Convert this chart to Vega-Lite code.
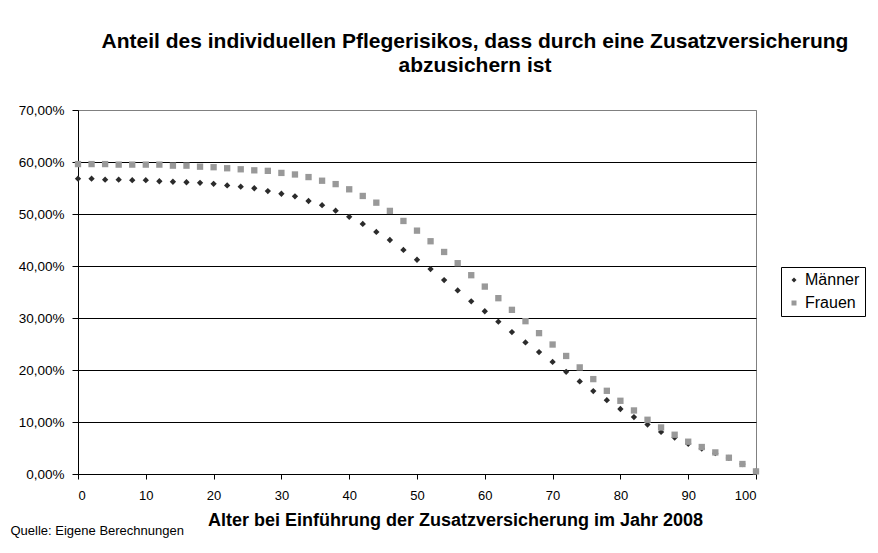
{
  "$schema": "https://vega.github.io/schema/vega-lite/v6.json",
  "width": 678,
  "height": 364,
  "autosize": {"type": "none"},
  "padding": {"left": 78, "top": 110, "right": 122, "bottom": 79},
  "background": "white",
  "title": {
    "text": ["Anteil des individuellen Pflegerisikos, dass durch eine Zusatzversicherung", "abzusichern ist"],
    "anchor": "middle",
    "dx": 58,
    "fontSize": 21,
    "fontWeight": "bold",
    "lineHeight": 24,
    "color": "black",
    "offset": 27
  },
  "data": {
    "values": [
      {"age": 0, "Männer": 56.8, "Frauen": 59.6},
      {"age": 2, "Männer": 56.8, "Frauen": 59.6},
      {"age": 4, "Männer": 56.6, "Frauen": 59.6},
      {"age": 6, "Männer": 56.6, "Frauen": 59.5},
      {"age": 8, "Männer": 56.5, "Frauen": 59.5},
      {"age": 10, "Männer": 56.5, "Frauen": 59.5},
      {"age": 12, "Männer": 56.3, "Frauen": 59.5},
      {"age": 14, "Männer": 56.2, "Frauen": 59.3},
      {"age": 16, "Männer": 56.1, "Frauen": 59.3},
      {"age": 18, "Männer": 56.0, "Frauen": 59.1},
      {"age": 20, "Männer": 55.8, "Frauen": 59.0},
      {"age": 22, "Männer": 55.5, "Frauen": 58.8},
      {"age": 24, "Männer": 55.25, "Frauen": 58.6},
      {"age": 26, "Männer": 54.95, "Frauen": 58.4},
      {"age": 28, "Männer": 54.4, "Frauen": 58.3},
      {"age": 30, "Männer": 53.9, "Frauen": 57.9},
      {"age": 32, "Männer": 53.4, "Frauen": 57.6},
      {"age": 34, "Männer": 52.5, "Frauen": 57.1},
      {"age": 36, "Männer": 51.7, "Frauen": 56.4},
      {"age": 38, "Männer": 50.64, "Frauen": 55.75},
      {"age": 40, "Männer": 49.45, "Frauen": 54.75},
      {"age": 42, "Männer": 48.09, "Frauen": 53.47},
      {"age": 44, "Männer": 46.55, "Frauen": 52.18},
      {"age": 46, "Männer": 45.0, "Frauen": 50.6},
      {"age": 48, "Männer": 43.1, "Frauen": 48.66},
      {"age": 50, "Männer": 41.2, "Frauen": 46.8},
      {"age": 52, "Männer": 39.4, "Frauen": 44.76},
      {"age": 54, "Männer": 37.3, "Frauen": 42.7},
      {"age": 56, "Männer": 35.3, "Frauen": 40.54},
      {"age": 58, "Männer": 33.2, "Frauen": 38.23},
      {"age": 60, "Männer": 31.3, "Frauen": 36.04},
      {"age": 62, "Männer": 29.3, "Frauen": 33.81},
      {"age": 64, "Männer": 27.3, "Frauen": 31.57},
      {"age": 66, "Männer": 25.3, "Frauen": 29.39},
      {"age": 68, "Männer": 23.44, "Frauen": 27.09},
      {"age": 70, "Männer": 21.55, "Frauen": 24.9},
      {"age": 72, "Männer": 19.65, "Frauen": 22.7},
      {"age": 74, "Männer": 17.8, "Frauen": 20.5},
      {"age": 76, "Männer": 15.95, "Frauen": 18.25},
      {"age": 78, "Männer": 14.2, "Frauen": 16.0},
      {"age": 80, "Männer": 12.5, "Frauen": 14.08},
      {"age": 82, "Männer": 10.95, "Frauen": 12.22},
      {"age": 84, "Männer": 9.5, "Frauen": 10.43},
      {"age": 86, "Männer": 8.1, "Frauen": 8.95},
      {"age": 88, "Männer": 7.0, "Frauen": 7.55},
      {"age": 90, "Männer": 5.8, "Frauen": 6.21},
      {"age": 92, "Männer": 4.9, "Frauen": 5.19},
      {"age": 94, "Männer": 4.0, "Frauen": 4.15},
      {"age": 96, "Männer": 3.1, "Frauen": 3.13},
      {"age": 98, "Männer": 1.9, "Frauen": 1.92},
      {"age": 100, "Männer": 0.5, "Frauen": 0.5}
    ]
  },
  "transform": [{"fold": ["Männer", "Frauen"], "as": ["sex", "v"]}],
  "mark": {"type": "point", "filled": true, "opacity": 1, "size": 40},
  "encoding": {
    "x": {
      "field": "age",
      "type": "quantitative",
      "scale": {"domain": [0, 100], "nice": false},
      "axis": {
        "values": [0, 10, 20, 30, 40, 50, 60, 70, 80, 90, 100],
        "grid": false,
        "title": "Alter bei Einführung der Zusatzversicherung im Jahr 2008",
        "titleFontSize": 18,
        "titleFontWeight": "bold",
        "titleX": 377,
        "titleY": 51,
        "titleAlign": "center",
        "titleBaseline": "alphabetic",
        "tickSize": 5,
        "labelPadding": 20,
        "labelBaseline": "alphabetic"
      }
    },
    "y": {
      "field": "v",
      "type": "quantitative",
      "scale": {"domain": [0, 70], "nice": false},
      "axis": {
        "values": [0, 10, 20, 30, 40, 50, 60, 70],
        "labelExpr": "replace(format(datum.value, '.2f'), '.', ',') + '%'",
        "grid": true,
        "gridColor": {"condition": {"test": "datum.value >= 70", "value": "#808080"}, "value": "black"},
        "tickSize": 6,
        "labelPadding": 8,
        "labelFontSize": 13.5,
        "title": "Quelle: Eigene Berechnungen",
        "titleAngle": 0,
        "titleX": -68,
        "titleY": 424,
        "titleAlign": "left",
        "titleBaseline": "alphabetic",
        "titleFontSize": 13,
        "titleFontWeight": "normal"
      }
    },
    "color": {
      "field": "sex",
      "type": "nominal",
      "scale": {"domain": ["Männer", "Frauen"], "range": ["#2b2b2b", "#999999"]},
      "legend": {"title": null}
    },
    "shape": {
      "field": "sex",
      "type": "nominal",
      "scale": {"domain": ["Männer", "Frauen"], "range": ["diamond", "square"]},
      "legend": {"title": null}
    }
  },
  "config": {
    "font": "Liberation Sans",
    "view": {"stroke": "#808080", "strokeWidth": 1, "fill": "white"},
    "axis": {
      "domainColor": "black",
      "tickColor": "black",
      "labelColor": "black",
      "titleColor": "black",
      "labelFontSize": 13,
      "labelFont": "Liberation Sans",
      "gridWidth": 1,
      "domainWidth": 1,
      "tickWidth": 1
    },
    "legend": {
      "orient": "none",
      "legendX": 703,
      "legendY": 157,
      "strokeColor": "black",
      "fillColor": "white",
      "padding": 5,
      "labelFontSize": 16,
      "labelColor": "black",
      "symbolSize": 25,
      "labelOffset": 3,
      "rowPadding": 7
    }
  }
}
